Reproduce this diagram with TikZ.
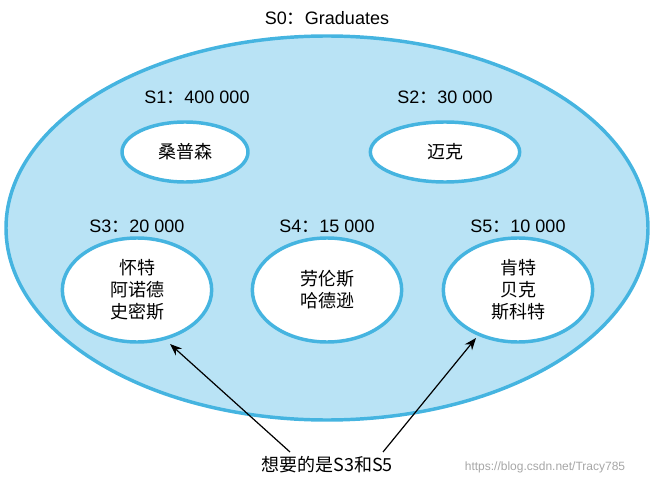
\documentclass[tikz,border=0pt]{standalone}
\usepackage{fontspec}
\usetikzlibrary{shapes.geometric,arrows.meta}
\setmainfont{Liberation Sans}
\newfontfamily\cjk{Noto Sans CJK SC}
\newcommand{\cc}{{\cjk ：}}
\definecolor{ringblue}{HTML}{45B4E0}
\definecolor{fillblue}{HTML}{B9E3F5}
\begin{document}
\begin{tikzpicture}[x=0.75pt,y=-0.75pt,
  lbl/.style={font=\fontsize{13.5}{15}\selectfont},
  ebox/.style={ellipse,draw=ringblue,line width=2.6pt,fill=white,font=\cjk\fontsize{13.5}{16.5}\selectfont,align=center,inner sep=0pt},
  arr/.style={-{Stealth[length=9pt,width=7pt]},line width=0.9pt}]
\useasboundingbox (0,0) rectangle (654,485);
\draw[ringblue,line width=2.6pt,fill=fillblue] (327,228) ellipse [x radius=321, y radius=192];
\node[lbl] (s0) at (327,18) {S0\cc Graduates};
\node[lbl] (s1) at (197,97) {S1\cc 400 000};
\node[lbl] (s2) at (445,97) {S2\cc 30 000};
\node[lbl] (s3) at (137,226) {S3\cc 20 000};
\node[lbl] (s4) at (327,226) {S4\cc 15 000};
\node[lbl] (s5) at (518,226) {S5\cc 10 000};
\node[ebox,minimum width=94.5pt,minimum height=45pt] (e1) at (185,152) {桑普森};
\node[ebox,minimum width=112pt,minimum height=45pt] (e2) at (445,152) {迈克};
\node[ebox,minimum width=112pt,minimum height=78pt] (e3) at (137,290) {怀特\\阿诺德\\史密斯};
\node[ebox,minimum width=112pt,minimum height=78pt] (e4) at (327,290) {劳伦斯\\哈德逊};
\node[ebox,minimum width=112pt,minimum height=78pt] (e5) at (518,290) {肯特\\贝克\\斯科特};
\node[font=\cjk\fontsize{13.5}{15}\selectfont] (goal) at (327,465) {想要的是S3和S5};
\node[font=\fontsize{9}{11}\selectfont,text=gray!70] (wm) at (545,467) {https://blog.csdn.net/Tracy785};
\coordinate (a1) at (290,452);
\coordinate (a2) at (383,452);
\draw[arr] (a1) -- (170,344);
\draw[arr] (a2) -- (476,338);
\end{tikzpicture}
\end{document}
